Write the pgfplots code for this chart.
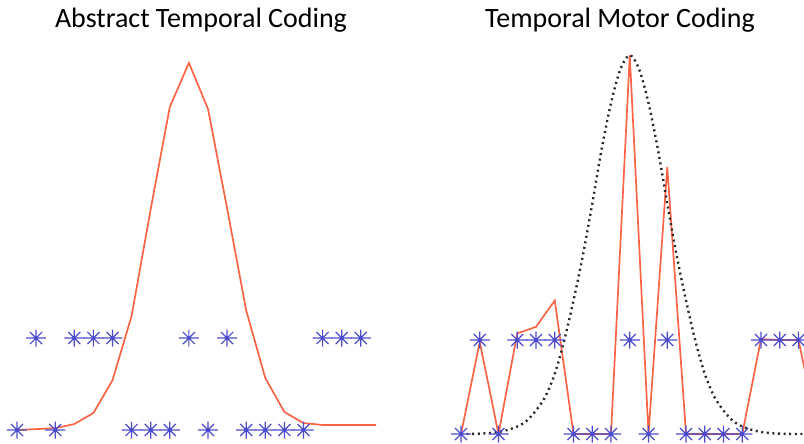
\documentclass[border=0pt]{standalone}
\usepackage{fontspec}
\setmainfont{Carlito}
\usepackage{pgfplots}
\pgfplotsset{compat=1.18}
\usepackage{pgfplotstable}

\definecolor{starblue}{RGB}{75,75,205}
\definecolor{curveorange}{RGB}{250,100,70}
\definecolor{dotgray}{RGB}{40,40,40}

\pgfdeclareplotmark{mstar}{%
  \pgfpathmoveto{\pgfqpoint{-\pgfplotmarksize}{0pt}}%
  \pgfpathlineto{\pgfqpoint{\pgfplotmarksize}{0pt}}%
  \pgfpathmoveto{\pgfqpoint{0pt}{-0.85\pgfplotmarksize}}%
  \pgfpathlineto{\pgfqpoint{0pt}{0.85\pgfplotmarksize}}%
  \pgfpathmoveto{\pgfqpoint{-0.6\pgfplotmarksize}{-0.6\pgfplotmarksize}}%
  \pgfpathlineto{\pgfqpoint{0.6\pgfplotmarksize}{0.6\pgfplotmarksize}}%
  \pgfpathmoveto{\pgfqpoint{-0.6\pgfplotmarksize}{0.6\pgfplotmarksize}}%
  \pgfpathlineto{\pgfqpoint{0.6\pgfplotmarksize}{-0.6\pgfplotmarksize}}%
  \pgfusepathqstroke}

% spike pattern (0 = bottom row, 1 = top row)
\pgfplotstableread{
i v
0 0
1 1
2 0
3 1
4 1
5 1
6 0
7 0
8 0
9 1
10 0
11 1
12 0
13 0
14 0
15 0
16 1
17 1
18 1
19 0
}\spikes

% abstract temporal coding curve
\pgfplotstableread{
i v
0 0.00
1 0.01
2 0.02
3 0.065
4 0.185
5 0.54
6 1.24
7 2.40
8 3.51
9 3.99
10 3.49
11 2.41
12 1.30
13 0.565
14 0.196
15 0.075
16 0.055
17 0.055
18 0.055
19 0.055
20 0.055
}\abstractcurve

% temporal motor coding curve
\pgfplotstableread{
i v
0 0
1 0.98
2 0
3 1.07
4 1.14
5 1.42
6 0
7 0
8 0
9 4.03
10 0
11 2.84
12 0
13 0
14 0
15 0
16 1.01
17 1.00
18 1.00
19 0.05
}\motorcurve

% dotted envelope
\pgfplotstableread{
i v
0 0.000
0.5 0.001
1 0.004
1.5 0.010
2 0.022
2.5 0.045
3 0.080
3.5 0.140
4 0.250
4.5 0.400
5 0.640
5.5 0.990
6 1.420
6.5 1.900
7 2.450
7.5 3.030
8 3.520
8.5 3.880
9 4.030
9.5 3.880
10 3.520
10.5 3.030
11 2.450
11.5 1.900
12 1.420
12.5 0.990
13 0.640
13.5 0.400
14 0.250
14.5 0.140
15 0.080
15.5 0.045
16 0.022
16.5 0.010
17 0.004
17.5 0.001
18 0.000
18.5 0.000
19 0.000
}\envelope

\begin{document}
\begin{tikzpicture}
\useasboundingbox (0bp,0bp) rectangle (804bp,444bp);
\begin{axis}[at={(0bp,0bp)}, anchor=south west, scale only axis,
  width=376bp, height=404bp,
  xmin=-0.890, xmax=18.796, ymin=-0.152, ymax=4.239,
  hide axis, clip=true]
\addplot[only marks, mark=mstar, mark size=10bp, color=starblue, line width=1.2bp] table[x=i,y=v]{\spikes};
\addplot[curveorange, line width=1.7bp, no marks] table[x=i,y=v]{\abstractcurve};
\end{axis}
\begin{axis}[at={(440bp,0bp)}, anchor=south west, scale only axis,
  width=364bp, height=404bp,
  xmin=-1.12, xmax=18.293, ymin=-0.106, ymax=4.191,
  hide axis, clip=true]
\addplot[only marks, mark=mstar, mark size=10bp, color=starblue, line width=1.2bp] table[x=i,y=v]{\spikes};
\addplot[curveorange, line width=1.7bp, no marks] table[x=i,y=v]{\motorcurve};
\addplot[dotgray, line width=2.4bp, dash pattern=on 2bp off 3.6bp, smooth, no marks] table[x=i,y=v]{\envelope};
\end{axis}
\node[anchor=base, font=\fontsize{28bp}{32bp}\selectfont, text=black] at (201bp,416bp) {Abstract Temporal Coding};
\node[anchor=base, font=\fontsize{28bp}{32bp}\selectfont, text=black] at (620bp,416bp) {Temporal Motor Coding};
\end{tikzpicture}
\end{document}
